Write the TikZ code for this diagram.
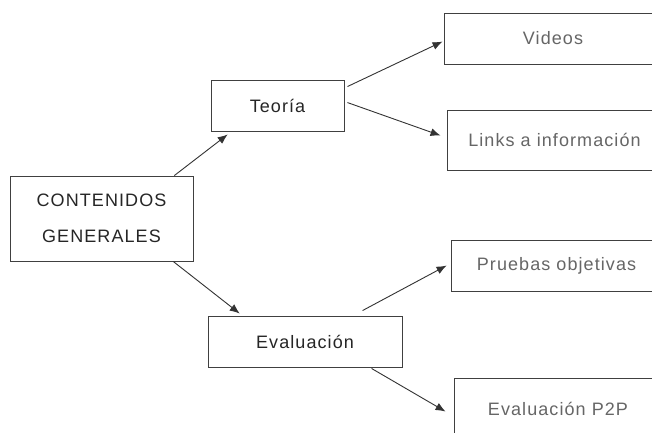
\documentclass[tikz,border=0pt]{standalone}
\usepackage{fontspec}
\setmainfont{Liberation Sans}
\newfontfamily\hand[LetterSpace=6]{Liberation Sans}
\usetikzlibrary{calc,arrows.meta}
\begin{document}
\begin{tikzpicture}[x=1pt,y=-1pt,
  box/.style={draw=black!75, line width=0.9pt, inner sep=0pt, align=center, font=\hand\fontsize{18}{22}\selectfont},
  mainbox/.style={box, text=black!85},
  leafbox/.style={box, text=black!60},
  conn/.style={draw=black!80, line width=0.9pt, -{Latex[length=10pt,width=8pt]}}]
\useasboundingbox (0,0) rectangle (652,432);
\fill[white] (0,0) rectangle (652,432);
\clip (0,0) rectangle (652,432);
\node[mainbox, minimum width=183pt, minimum height=85pt, font=\hand\fontsize{18}{36}\selectfont] (cg) at (101.5,218.5) {CONTENIDOS\\GENERALES};
\node[mainbox, minimum width=133pt, minimum height=51pt] (teo) at (277.5,105.5) {Teoría};
\node[mainbox, minimum width=194pt, minimum height=51pt] (eva) at (305,341.5) {Evaluación};
\node[leafbox, minimum width=218pt, minimum height=51pt] (vid) at (553,38.5) {Videos};
\node[leafbox, minimum width=215pt, minimum height=60pt] (lnk) at (554.5,140) {Links a información};
\node[leafbox, minimum width=211pt, minimum height=51pt] (pru) at (556.5,265.5) {Pruebas objetivas};
\node[leafbox, minimum width=208pt, minimum height=62pt] (p2p) at (558,409) {Evaluación P2P};
\draw[conn] ($(cg.north west)!0.896!(cg.north east)$) -- ($(teo.south west)!0.128!(teo.south east)+(0,3)$);
\draw[conn] ($(cg.south west)!0.89!(cg.south east)$) -- ($(eva.north west)!0.165!(eva.north east)+(0,-2)$);
\draw[conn] ($(teo.north east)+(3,7)$) -- ($(vid.north west)+(-1,29)$);
\draw[conn] ($(teo.north east)+(3,23)$) -- ($(lnk.north west)+(-6,26)$);
\draw[conn] ($(eva.north west)+(155,-5)$) -- ($(pru.north west)+(-4,26)$);
\draw[conn] ($(eva.south west)+(164,1)$) -- ($(p2p.north west)+(-8,34)$);
\end{tikzpicture}
\end{document}
